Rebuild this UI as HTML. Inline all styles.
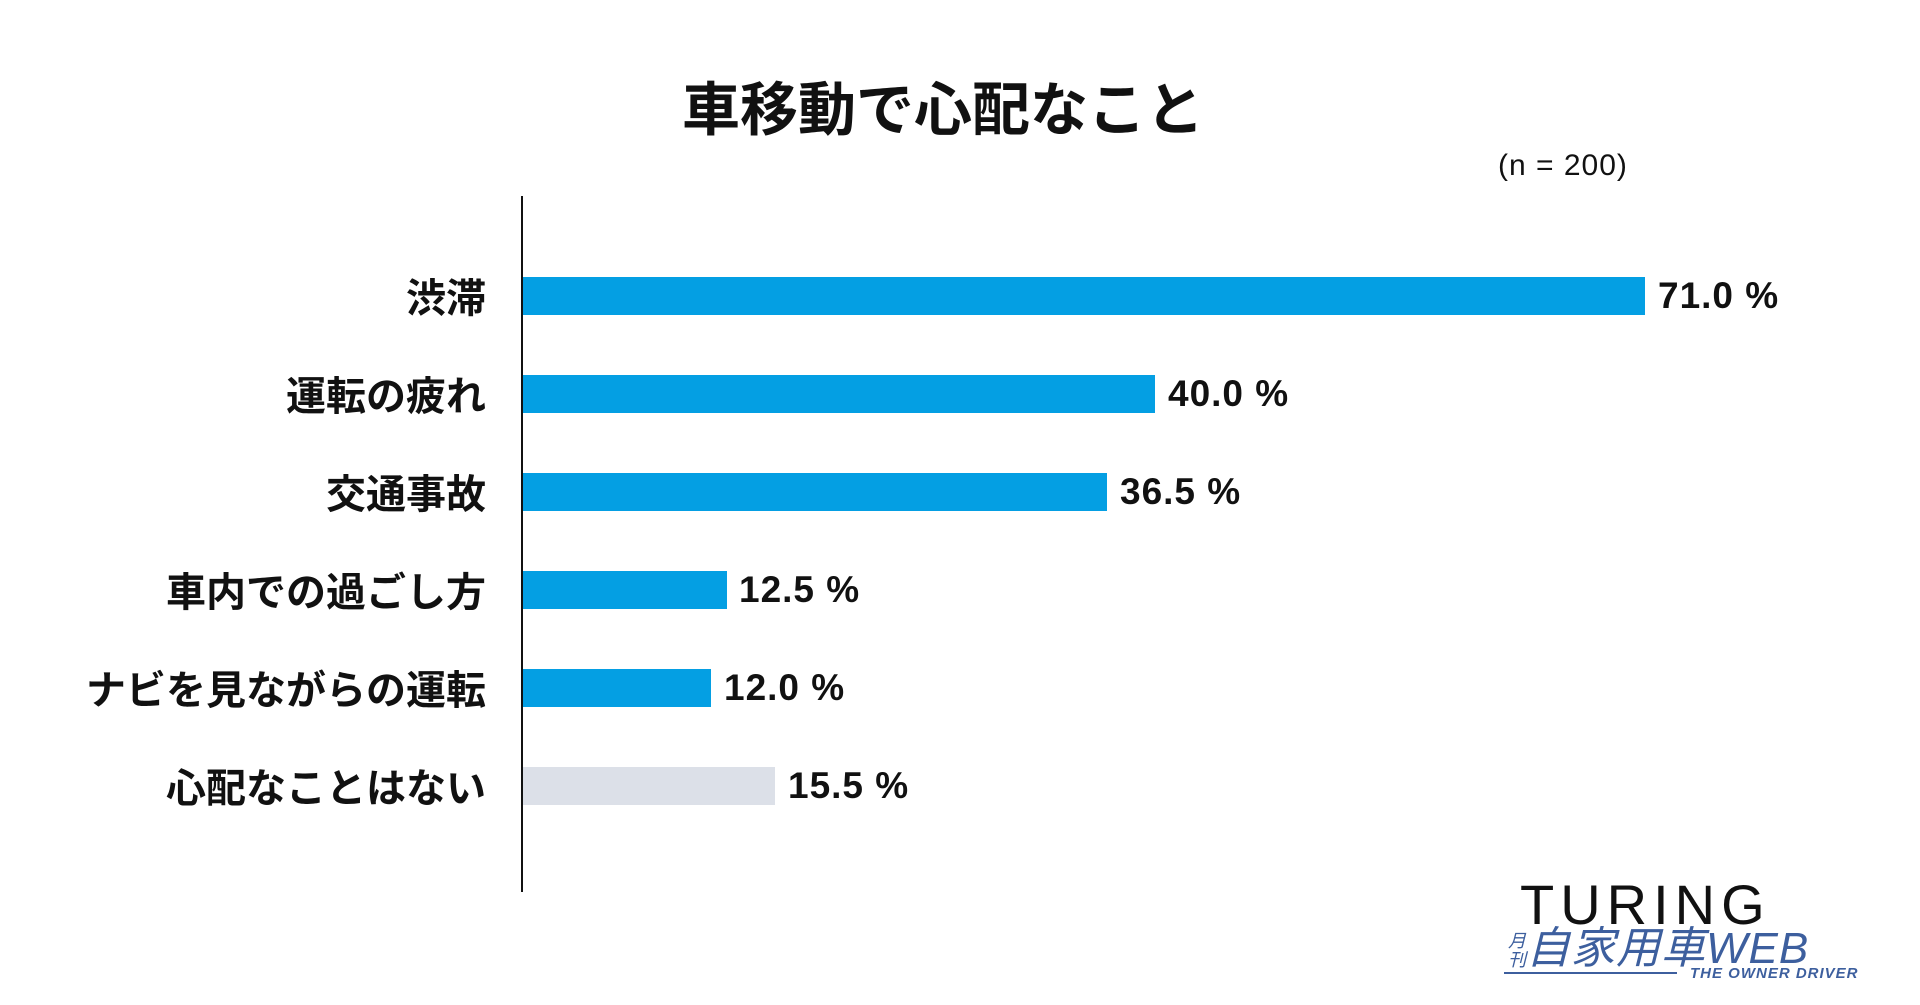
<!DOCTYPE html>
<html><head><meta charset="utf-8"><style>
body{margin:0;width:1920px;height:1005px;background:#fff;position:relative;overflow:hidden;font-family:"Liberation Sans","Noto Sans CJK JP",sans-serif;color:#111}
.a{position:absolute;white-space:nowrap}
.bar{position:absolute;left:523px;height:38px;background:#049fe3}
.lab{position:absolute;right:1434px;font-size:40px;font-weight:bold;line-height:38px}
.val{position:absolute;font-size:37px;font-weight:bold;line-height:38px;letter-spacing:1px}
</style></head><body>
<div class="a" style="left:0;width:1886px;text-align:center;top:63px;font-size:58px;font-weight:bold">車移動で心配なこと</div>
<div class="a" style="left:1498px;top:149px;font-size:30px;letter-spacing:1px">(n = 200)</div>
<div class="a" style="left:521px;top:196px;width:2px;height:696px;background:#111"></div>

<div class="bar" style="top:277px;width:1122px"></div>
<div class="bar" style="top:375px;width:632px"></div>
<div class="bar" style="top:473px;width:584px"></div>
<div class="bar" style="top:571px;width:204px"></div>
<div class="bar" style="top:669px;width:188px"></div>
<div class="bar" style="top:767px;width:252px;background:#dce0e8"></div>

<div class="lab" style="top:280px">渋滞</div>
<div class="lab" style="top:378px">運転の疲れ</div>
<div class="lab" style="top:476px">交通事故</div>
<div class="lab" style="top:574px">車内での過ごし方</div>
<div class="lab" style="top:672px">ナビを見ながらの運転</div>
<div class="lab" style="top:770px">心配なことはない</div>

<div class="val" style="left:1658px;top:277px">71.0 %</div>
<div class="val" style="left:1168px;top:375px">40.0 %</div>
<div class="val" style="left:1120px;top:473px">36.5 %</div>
<div class="val" style="left:739px;top:571px">12.5 %</div>
<div class="val" style="left:724px;top:669px">12.0 %</div>
<div class="val" style="left:788px;top:767px">15.5 %</div>

<div class="a" style="left:1520px;top:872px;font-size:56px;letter-spacing:6px;color:#111">TURING</div>
<div class="a" style="left:1508px;top:924px;font-size:44px;line-height:50px;color:#3d5f9e;font-style:italic;letter-spacing:1px"><span style="font-size:18px;display:inline-block;width:18px;line-height:19px;vertical-align:middle;white-space:normal">月刊</span>自家用車WEB</div>
<div class="a" style="left:1504px;top:972px;width:173px;height:2px;background:#3d5f9e"></div>
<div class="a" style="left:1690px;top:965px;font-size:15px;font-weight:bold;font-style:italic;color:#3d5f9e;letter-spacing:1px">THE OWNER DRIVER</div>
</body></html>
